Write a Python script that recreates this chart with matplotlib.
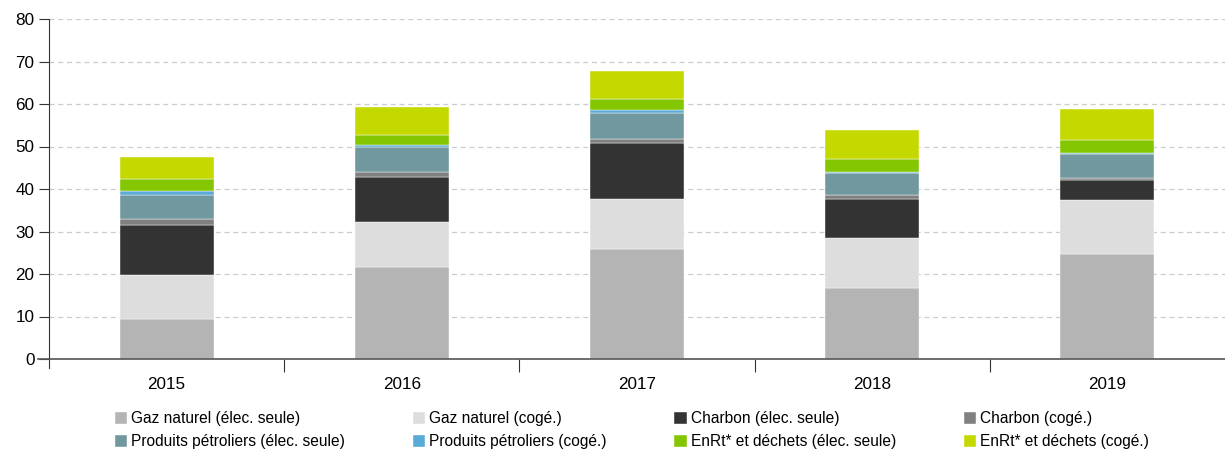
import matplotlib.pyplot as plt
import numpy as np

plt.rcParams['font.family'] = ['Liberation Sans', 'DejaVu Sans']

### data (TWh) ###
years = ['2015', '2016', '2017', '2018', '2019']
series_names = ['Gaz naturel (élec. seule)', 'Gaz naturel (cogé.)',
                'Charbon (élec. seule)', 'Charbon (cogé.)',
                'Produits pétroliers (élec. seule)', 'Produits pétroliers (cogé.)',
                'EnRt* et déchets (élec. seule)', 'EnRt* et déchets (cogé.)']
gaz_elec = [9.4, 21.6, 25.9, 16.7, 24.7]
gaz_coge = [10.4, 10.7, 11.7, 11.8, 12.7]
charbon_elec = [11.8, 10.6, 13.3, 9.2, 4.7]
charbon_coge = [1.4, 1.2, 0.8, 0.8, 0.6]
petrole_elec = [5.7, 5.8, 6.1, 5.3, 5.5]
petrole_coge = [0.8, 0.4, 0.9, 0.3, 0.3]
enr_elec = [2.8, 2.5, 2.5, 3.0, 3.0]
enr_coge = [5.3, 6.6, 6.6, 6.9, 7.3]

colors = ['#b3b4b3', '#dcdddc', '#333333', '#808080',
          '#71979f', '#5aaad8', '#84c600', '#c4d900']

series = [gaz_elec, gaz_coge, charbon_elec, charbon_coge,
          petrole_elec, petrole_coge, enr_elec, enr_coge]

fig = plt.figure(figsize=(12.25, 4.5), dpi=100)
ax = fig.add_axes([49/1225, 1 - 359/450, 1176/1225, 340/450])

x = np.arange(len(years))
bottom = np.zeros(len(years))
handles = []
for vals, name, c in zip(series, series_names, colors):
    b = ax.bar(x, vals, 0.4, bottom=bottom, color=c, label=name,
               edgecolor='white', linewidth=0.3)
    handles.append(b)
    bottom += np.array(vals)

ax.set_xlim(-0.5, len(years) - 0.5)
ax.set_ylim(0, 80)
ax.set_yticks(range(0, 81, 10))
ax.yaxis.grid(True, linestyle=(0, (4, 3)), color='#cccccc', linewidth=0.9)
ax.set_axisbelow(True)

for s in ['top', 'right']:
    ax.spines[s].set_visible(False)
ax.spines['left'].set_color('#333333')
ax.spines['bottom'].set_color('#555555')
ax.spines['bottom'].set_linewidth(1.2)

# category labels without ticks, separator ticks between categories
ax.set_xticks(x)
ax.set_xticklabels(years, fontsize=12.3)
ax.tick_params(axis='x', length=0, pad=13)
ax.set_xticks(np.arange(-0.5, len(years) - 0.5, 1.0)[1:], minor=True)
ax.tick_params(axis='x', which='minor', length=9, color='#333333', width=0.8)
ax.tick_params(axis='y', labelsize=12.3, length=7, color='#333333')

# axis line stretching a little left and y axis going below zero
ax.plot([-11/1176, 0], [0, 0], transform=ax.transAxes, color='#555555',
        lw=1.2, clip_on=False)
ax.plot([0, 0], [0, -9/340], transform=ax.transAxes, color='#333333',
        lw=0.8, clip_on=False)

order = [0, 4, 1, 5, 2, 6, 3, 7]
leg = fig.legend([handles[i] for i in order], [series_names[i] for i in order],
                 ncol=4, loc='upper left', bbox_to_anchor=(115/1225, 1 - 411/450),
                 frameon=False, fontsize=11.2, handlelength=0.8, handleheight=0.8,
                 handletextpad=0.25, columnspacing=4.35, labelspacing=0.52,
                 borderaxespad=0, borderpad=0)

fig.savefig('out.png', dpi=100)
